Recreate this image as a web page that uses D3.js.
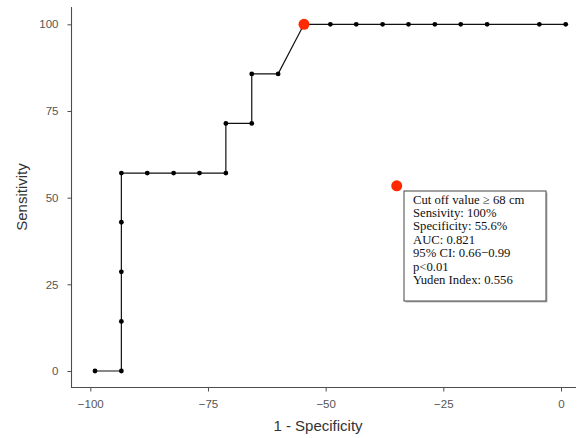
<!DOCTYPE html>
<html>
<head>
<meta charset="utf-8">
<script src="https://cdn.jsdelivr.net/npm/d3@7"></script>
<style>
  body { margin: 0; background: #fff; }
  svg { display: block; }
</style>
</head>
<body>
<svg id="roc"></svg>
<script>
// ROC curve points (1 - specificity, sensitivity)
const fpr = [-99.0, -93.4, -93.4, -93.4, -93.4, -93.4, -87.9, -82.3, -76.8, -71.2, -71.2, -65.7, -65.7, -60.1,
             -54.6, -49.0, -43.5, -37.9, -32.4, -26.8, -21.3, -15.7, -4.6, 1.0];
const sens = [0, 0, 14.3, 28.6, 42.9, 57.1, 57.1, 57.1, 57.1, 57.1, 71.4, 71.4, 85.7, 85.7,
              100, 100, 100, 100, 100, 100, 100, 100, 100, 100];

// cut-off point and the annotation marker
const cutIndex = 14;
const markerPt = [-34.9, 53.4];

const xTicks = [-100, -75, -50, -25, 0];
const yTicks = [0, 25, 50, 75, 100];

const infoLines = [
    "Cut off value \u2265 68 cm",
    "Sensivity: 100%",
    "Specificity: 55.6%",
    "AUC: 0.821",
    "95% CI: 0.66\u22120.99",
    "p<0.01",
    "Yuden Index: 0.556"
];

const width = 582, height = 438;
const svg = d3.select("#roc").attr("width", width).attr("height", height);

const x = d3.scaleLinear().domain([-100, 0]).range([90.3, 561]);
const y = d3.scaleLinear().domain([0, 100]).range([371, 24.3]);

const axisColor = "#4d4d4d";
const fmt = d => d < 0 ? "\u2212" + Math.abs(d) : String(d);

// x axis
const gx = svg.append("g")
    .attr("transform", "translate(0,387.5)")
    .call(d3.axisBottom(x).tickValues(xTicks).tickSize(4).tickPadding(8).tickFormat(fmt));
gx.select(".domain").attr("d", "M71,0H576").attr("stroke", axisColor).attr("stroke-width", 1.1);
gx.selectAll(".tick line").attr("stroke", axisColor);
gx.selectAll("text").attr("fill", "#555").attr("font-family", "Liberation Sans, Arial, sans-serif").attr("font-size", "11.5px");

// y axis
const gy = svg.append("g")
    .attr("transform", "translate(71.5,0)")
    .call(d3.axisLeft(y).tickValues(yTicks).tickSize(4).tickPadding(9));
gy.select(".domain").attr("d", "M0,7V387.5").attr("stroke", axisColor).attr("stroke-width", 1.1);
gy.selectAll(".tick line").attr("stroke", axisColor);
gy.selectAll("text").attr("fill", "#555").attr("font-family", "Liberation Sans, Arial, sans-serif").attr("font-size", "11.5px");

// axis titles
svg.append("text")
    .attr("x", 318).attr("y", 431)
    .attr("text-anchor", "middle")
    .attr("fill", "#333")
    .attr("font-family", "Liberation Sans, Arial, sans-serif")
    .attr("font-size", "15px")
    .text("1 - Specificity");

svg.append("text")
    .attr("transform", "translate(27,197) rotate(-90)")
    .attr("text-anchor", "middle")
    .attr("fill", "#333")
    .attr("font-family", "Liberation Sans, Arial, sans-serif")
    .attr("font-size", "15px")
    .text("Sensitivity");

// ROC line
const pts = fpr.map((v, i) => [v, sens[i]]);
const line = d3.line().x(d => x(d[0])).y(d => y(d[1]));

svg.append("path")
    .datum(pts)
    .attr("fill", "none")
    .attr("stroke", "#111")
    .attr("stroke-width", 1.2)
    .attr("d", line);

svg.selectAll("circle.pt")
    .data(pts.filter((d, i) => i !== cutIndex))
    .enter()
    .append("circle")
    .attr("class", "pt")
    .attr("cx", d => x(d[0]))
    .attr("cy", d => y(d[1]))
    .attr("r", 2.4)
    .attr("fill", "#000");

// red cut-off point + annotation marker
svg.selectAll("circle.cut")
    .data([pts[cutIndex], markerPt])
    .enter()
    .append("circle")
    .attr("class", "cut")
    .attr("cx", d => x(d[0]))
    .attr("cy", d => y(d[1]))
    .attr("r", 5.5)
    .attr("fill", "#ff2a00");

// info box
const box = svg.append("g").attr("transform", "translate(404,191)");
box.append("rect")
    .attr("x", 1.5).attr("y", 1.5)
    .attr("width", 142).attr("height", 110)
    .attr("fill", "#bbb");
box.append("rect")
    .attr("width", 142).attr("height", 110)
    .attr("fill", "#fff")
    .attr("stroke", "#444")
    .attr("stroke-width", 1);
box.selectAll("text")
    .data(infoLines)
    .enter()
    .append("text")
    .attr("x", 9)
    .attr("y", (d, i) => 12.5 + i * 13.4)
    .attr("font-family", "Liberation Serif, Times New Roman, serif")
    .attr("font-size", "12.7px")
    .attr("fill", "#111")
    .text(d => d);
</script>
</body>
</html>
